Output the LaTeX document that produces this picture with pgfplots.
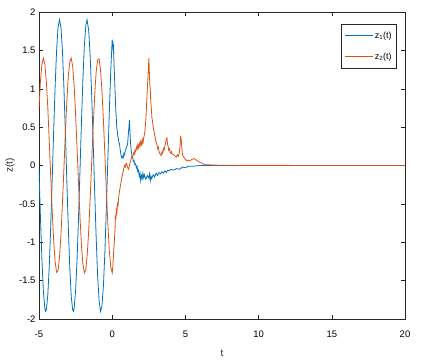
\documentclass[border=0pt]{standalone}
\usepackage{pgfplots}
\pgfplotsset{compat=1.18}
\usepackage{fontspec}
\setmainfont{Liberation Sans}
\definecolor{mblue}{rgb}{0,0.447,0.741}
\definecolor{morange}{rgb}{0.850,0.325,0.098}
\definecolor{axgray}{rgb}{0.15,0.15,0.15}
\begin{document}
\begin{tikzpicture}
\begin{axis}[
  scale only axis, width=366bp, height=307bp,
  xmin=-5, xmax=20, ymin=-2, ymax=2,
  xtick={-5,0,5,10,15,20},
  ytick={-2,-1.5,-1,-0.5,0,0.5,1,1.5,2},
  yticklabels={-2,-1.5,-1,-0.5,0,0.5,1,1.5,2},
  xticklabels={-5,0,5,10,15,20},
  tick align=inside, major tick length=4bp,
  axis line style={axgray, line width=0.6pt},
  every tick/.style={axgray, line width=0.5pt},
  tick label style={font=\fontsize{9.5}{10}\selectfont, text=black},
  xticklabel style={yshift=-8bp},
  /pgf/number format/assume math mode=true,
  xlabel={t}, ylabel={z(t)},
  label style={font=\fontsize{10}{11}\selectfont, text=axgray},
  xlabel style={at={(rel axis cs:0.5,0)}, anchor=center, yshift=-34bp},
  ylabel style={at={(rel axis cs:0,0.5)}, anchor=center, yshift=29bp},
  legend style={at={(rel axis cs:0.978,0.961)}, anchor=north east,
    font=\fontsize{9}{10}\selectfont, draw=axgray, line width=0.5pt,
    row sep=9bp, inner xsep=3bp, inner ysep=5.5bp},
  legend cell align=left,
  legend image code/.code={\draw[#1] (0bp,0bp) -- (28bp,0bp);},
]
\addplot[mblue, line width=0.8pt] coordinates {
(-5.0,-0.06) (-4.9,-0.68) (-4.8,-1.23) (-4.7,-1.64) (-4.6,-1.86) (-4.55,-1.90) (-4.5,-1.88) (-4.4,-1.69) (-4.3,-1.32) (-4.2,-0.80) (-4.1,-0.19) (-4.0,0.44) (-3.9,1.02) (-3.8,1.49) (-3.7,1.80) (-3.6,1.90) (-3.5,1.80) (-3.4,1.50) (-3.3,1.03) (-3.2,0.44) (-3.1,-0.19) (-3.0,-0.80) (-2.9,-1.32) (-2.8,-1.70) (-2.7,-1.88) (-2.65,-1.90) (-2.6,-1.86) (-2.5,-1.63) (-2.4,-1.23) (-2.3,-0.68) (-2.2,-0.06) (-2.1,0.56) (-2.0,1.13) (-1.9,1.57) (-1.8,1.83) (-1.72,1.90) (-1.6,1.75) (-1.5,1.41) (-1.4,0.91) (-1.3,0.31) (-1.2,-0.32) (-1.1,-0.91) (-1.0,-1.42) (-0.9,-1.75) (-0.8,-1.90) (-0.7,-1.83) (-0.6,-1.57) (-0.5,-1.13) (-0.4,-0.56) (-0.3,0.06) (-0.2,0.68) (-0.1,1.23) (0.0,1.64)
(0.02,1.55) (0.04,1.62) (0.06,1.50) (0.08,1.58) (0.10,1.45) (0.13,1.30) (0.16,1.15) (0.19,1.00) (0.22,0.85) (0.25,0.70) (0.28,0.62) (0.31,0.50) (0.34,0.46) (0.38,0.38) (0.42,0.35) (0.46,0.30) (0.50,0.28) (0.55,0.20) (0.60,0.14) (0.65,0.10) (0.70,0.12) (0.75,0.10) (0.80,0.16) (0.85,0.14) (0.90,0.20) (0.95,0.22) (1.00,0.25) (1.05,0.28) (1.10,0.40) (1.15,0.52) (1.18,0.59) (1.21,0.45) (1.25,0.30) (1.30,0.20) (1.35,0.12) (1.40,0.10) (1.45,0.05) (1.50,0.06) (1.55,0.01) (1.60,0.02) (1.65,-0.03) (1.70,-0.01) (1.75,-0.08) (1.80,-0.06) (1.85,-0.14) (1.90,-0.10) (1.95,-0.20) (2.00,-0.13) (2.05,-0.17) (2.10,-0.10) (2.15,-0.16) (2.20,-0.12) (2.30,-0.18) (2.40,-0.13) (2.50,-0.16) (2.55,-0.11) (2.60,-0.20) (2.65,-0.14) (2.70,-0.17) (2.80,-0.12) (2.90,-0.15) (3.00,-0.10) (3.10,-0.13) (3.20,-0.09) (3.30,-0.11) (3.40,-0.08) (3.50,-0.10) (3.60,-0.07) (3.70,-0.09) (3.80,-0.06) (3.90,-0.07) (4.00,-0.05) (4.20,-0.06) (4.40,-0.04) (4.60,-0.05) (4.80,-0.02) (5.00,-0.03) (5.20,-0.01) (5.50,-0.01) (6.00,0.00) (6.50,0.00) (7.00,0.00) (20,0.00)
};
\addlegendentry{z\textsubscript{1}(t)}
\addplot[morange, line width=0.8pt] coordinates {
(-5.0,0.75) (-4.9,1.10) (-4.8,1.32) (-4.7,1.40) (-4.6,1.32) (-4.5,1.10) (-4.4,0.76) (-4.3,0.32) (-4.2,-0.14) (-4.1,-0.59) (-4.0,-0.97) (-3.9,-1.25) (-3.8,-1.39) (-3.7,-1.37) (-3.6,-1.20) (-3.5,-0.90) (-3.4,-0.50) (-3.3,-0.05) (-3.2,0.42) (-3.1,0.83) (-3.0,1.16) (-2.9,1.35) (-2.8,1.40) (-2.7,1.29) (-2.6,1.04) (-2.5,0.67) (-2.4,0.23) (-2.3,-0.23) (-2.2,-0.67) (-2.1,-1.04) (-2.0,-1.29) (-1.9,-1.40) (-1.8,-1.35) (-1.7,-1.15) (-1.6,-0.83) (-1.5,-0.41) (-1.4,0.05) (-1.3,0.50) (-1.2,0.90) (-1.1,1.21) (-1.0,1.37) (-0.9,1.39) (-0.8,1.25) (-0.7,0.97) (-0.6,0.59) (-0.5,0.14) (-0.4,-0.32) (-0.3,-0.75) (-0.2,-1.10) (-0.1,-1.32) (0.0,-1.40)
(0.05,-1.30) (0.10,-1.12) (0.15,-0.98) (0.20,-0.80) (0.22,-0.65) (0.25,-0.70) (0.28,-0.58) (0.32,-0.62) (0.36,-0.50) (0.40,-0.52) (0.45,-0.40) (0.50,-0.33) (0.55,-0.28) (0.60,-0.22) (0.65,-0.17) (0.70,-0.12) (0.75,-0.08) (0.80,-0.03) (0.85,0.00) (0.90,-0.02) (0.95,0.03) (1.00,0.01) (1.05,-0.02) (1.10,-0.05) (1.15,-0.03) (1.20,0.02) (1.25,0.06) (1.30,0.09) (1.35,0.12) (1.40,0.11) (1.45,0.16) (1.50,0.14) (1.55,0.20) (1.60,0.18) (1.65,0.24) (1.70,0.21) (1.75,0.27) (1.80,0.23) (1.85,0.29) (1.90,0.25) (1.95,0.31) (2.00,0.27) (2.05,0.34) (2.10,0.29) (2.15,0.36) (2.20,0.40) (2.25,0.48) (2.30,0.60) (2.35,0.80) (2.40,1.00) (2.44,1.15) (2.48,1.30) (2.51,1.40) (2.54,1.20) (2.57,1.05) (2.60,1.00) (2.63,0.85) (2.67,0.75) (2.71,0.63) (2.75,0.58) (2.80,0.50) (2.85,0.45) (2.90,0.40) (2.95,0.35) (3.00,0.30) (3.05,0.28) (3.10,0.22) (3.15,0.24) (3.20,0.18) (3.25,0.16) (3.30,0.14) (3.35,0.13) (3.40,0.18) (3.45,0.16) (3.50,0.22) (3.55,0.20) (3.60,0.26) (3.65,0.30) (3.70,0.35) (3.74,0.36) (3.78,0.28) (3.82,0.25) (3.86,0.20) (3.90,0.22) (3.95,0.18) (4.00,0.16) (4.05,0.18) (4.10,0.15) (4.20,0.14) (4.30,0.12) (4.38,0.11) (4.45,0.14) (4.52,0.12) (4.58,0.16) (4.63,0.25) (4.68,0.39) (4.72,0.32) (4.76,0.22) (4.80,0.14) (4.88,0.11) (5.00,0.08) (5.10,0.06) (5.20,0.07) (5.30,0.06) (5.45,0.08) (5.60,0.09) (5.75,0.07) (5.90,0.05) (6.00,0.04) (6.15,0.03) (6.30,0.01) (6.50,0.01) (7.00,0.005) (8.00,0.002) (20,0)
};
\addlegendentry{z\textsubscript{2}(t)}
\end{axis}
\pgfresetboundingbox
\path ([shift={(-39bp,-44bp)}]current axis.south west) rectangle ([shift={(16bp,12bp)}]current axis.north east);
\end{tikzpicture}
\end{document}
